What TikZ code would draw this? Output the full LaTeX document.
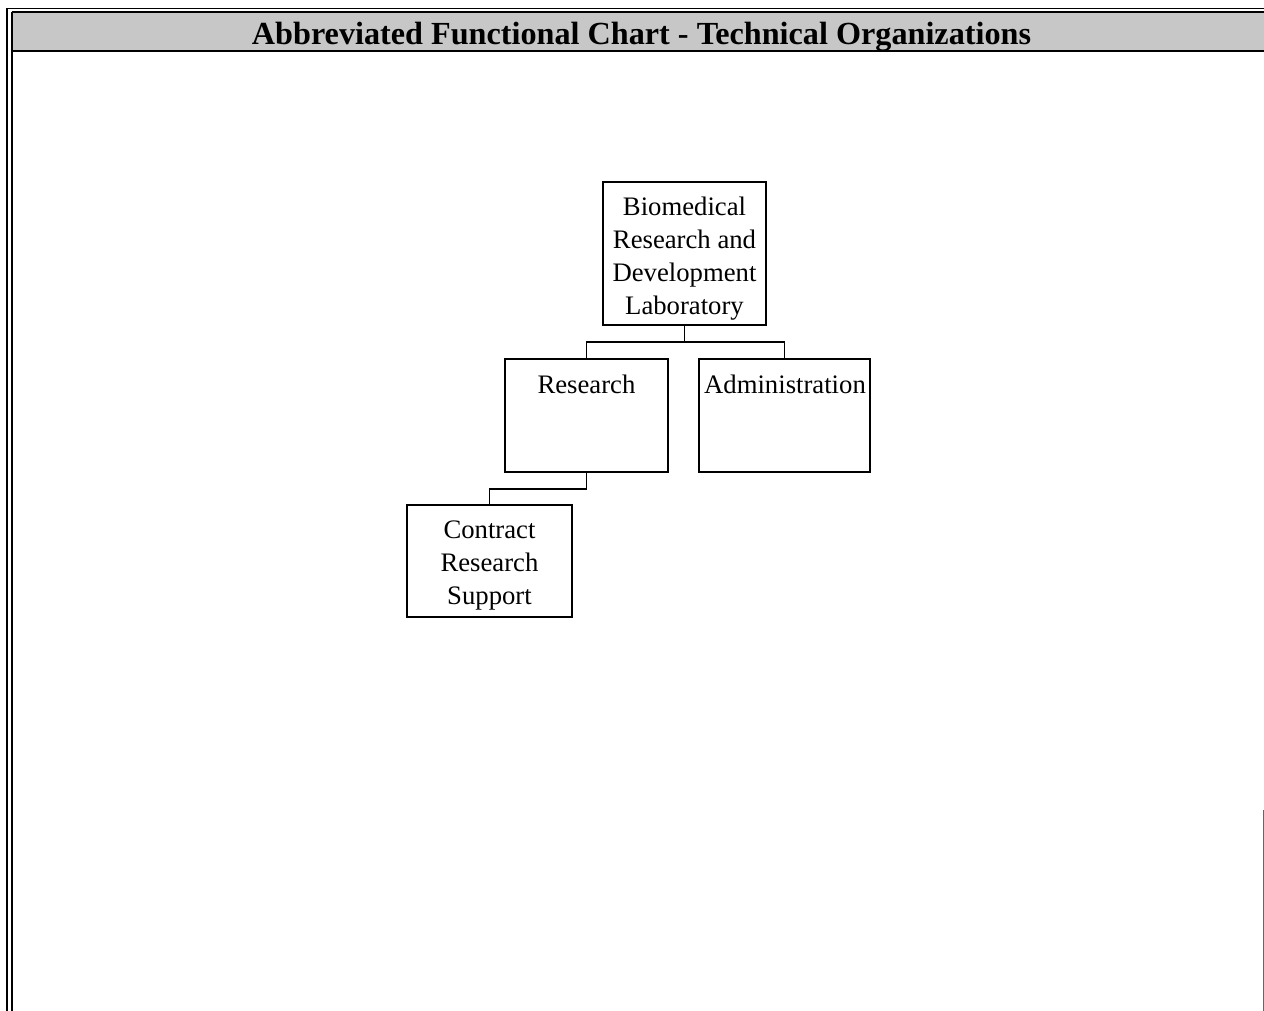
\documentclass[tikz,border=0pt]{standalone}
\usepackage{fontspec}
\setmainfont{Liberation Serif}
\begin{document}
\begin{tikzpicture}[x=1pt,y=-1pt,
  orgbox/.style={draw=black, line width=1.5pt, inner sep=0pt},
  lbl/.style={inner sep=0pt, align=center, font=\fontsize{26.7}{33}\selectfont},
  conn/.style={draw=black, line width=1.7pt}]
\useasboundingbox (0,0) rectangle (1264,1011);
% frame and title bar
\fill[black!22] (12,12) rectangle (1264,51);
\draw[line width=1.5pt] (7,8.5) -- (1264,8.5);
\draw[line width=1.5pt] (12,12) -- (1264,12);
\draw[line width=2pt] (12,51) -- (1264,51);
\draw[line width=1.5pt] (7,8.5) -- (7,1011);
\draw[line width=1.5pt] (12,12) -- (12,1011);
\draw[line width=0.8pt, black!60] (1263,810) -- (1263,1011);
\node[anchor=base, inner sep=0pt, font=\fontsize{32.2}{36}\selectfont\bfseries] (title) at (641.5,44.5) {Abbreviated Functional Chart - Technical Organizations};
% boxes
\node[orgbox, minimum width=163pt, minimum height=143pt] (brdl) at (684.5,253.5) {};
\node[lbl] (brdllbl) at (684.5,258.5) {Biomedical\\Research and\\Development\\Laboratory};
\node[orgbox, minimum width=163pt, minimum height=113pt] (res) at (586.5,415.5) {};
\node[lbl] (reslbl) at (586.5,384) {Research};
\node[orgbox, minimum width=171pt, minimum height=113pt] (adm) at (784.5,415.5) {};
\node[lbl] (admlbl) at (785,384) {Administration};
\node[orgbox, minimum width=165pt, minimum height=112pt] (crs) at (489.5,561) {};
\node[lbl] (crslbl) at (489.5,565) {Contract\\Research\\Support};
% connectors
\coordinate (j1) at (684.5,342);
\draw[conn] (brdl.south) -- (j1);
\draw[conn] (res.north) |- (j1) -| (adm.north);
\draw[conn] (res.south) -- ++(0,16) -| (crs.north);
\end{tikzpicture}
\end{document}
